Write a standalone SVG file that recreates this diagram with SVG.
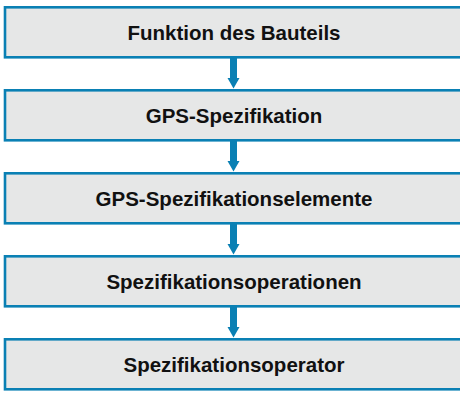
<svg xmlns="http://www.w3.org/2000/svg" width="460" height="394" viewBox="0 0 460 394">
<defs>
<style>
.box{fill:#e6e7e7;stroke:#0a80b4;stroke-width:2.6}
.lbl{font-family:"Liberation Sans",Arial,sans-serif;font-weight:bold;font-size:20.5px;fill:#111;text-anchor:middle}
.shaft{stroke:#0a80b4;stroke-width:7;fill:none}
.head{fill:#0a80b4}
</style>
</defs>
<rect width="460" height="394" fill="#ffffff"/>
<g id="connectors">
<line class="shaft" x1="233.5" y1="58" x2="233.5" y2="79"/><polygon class="head" points="227.5,78 239.5,78 233.5,88.5"/>
<line class="shaft" x1="233.5" y1="141" x2="233.5" y2="162"/><polygon class="head" points="227.5,161 239.5,161 233.5,171.5"/>
<line class="shaft" x1="233.5" y1="224" x2="233.5" y2="245"/><polygon class="head" points="227.5,244 239.5,244 233.5,254.5"/>
<line class="shaft" x1="233.5" y1="307" x2="233.5" y2="328"/><polygon class="head" points="227.5,327 239.5,327 233.5,337.5"/>
</g>
<g id="n1"><rect class="box" x="5" y="7.3" width="460" height="50"/><text class="lbl" x="234" y="39.5">Funktion des Bauteils</text></g>
<g id="n2"><rect class="box" x="5" y="90.3" width="460" height="50"/><text class="lbl" x="234" y="122.5">GPS-Spezifikation</text></g>
<g id="n3"><rect class="box" x="5" y="173.3" width="460" height="50"/><text class="lbl" x="234" y="205.5">GPS-Spezifikationselemente</text></g>
<g id="n4"><rect class="box" x="5" y="256.3" width="460" height="50"/><text class="lbl" x="234" y="288.5">Spezifikationsoperationen</text></g>
<g id="n5"><rect class="box" x="5" y="339.3" width="460" height="50"/><text class="lbl" x="234" y="371.5">Spezifikationsoperator</text></g>
</svg>
